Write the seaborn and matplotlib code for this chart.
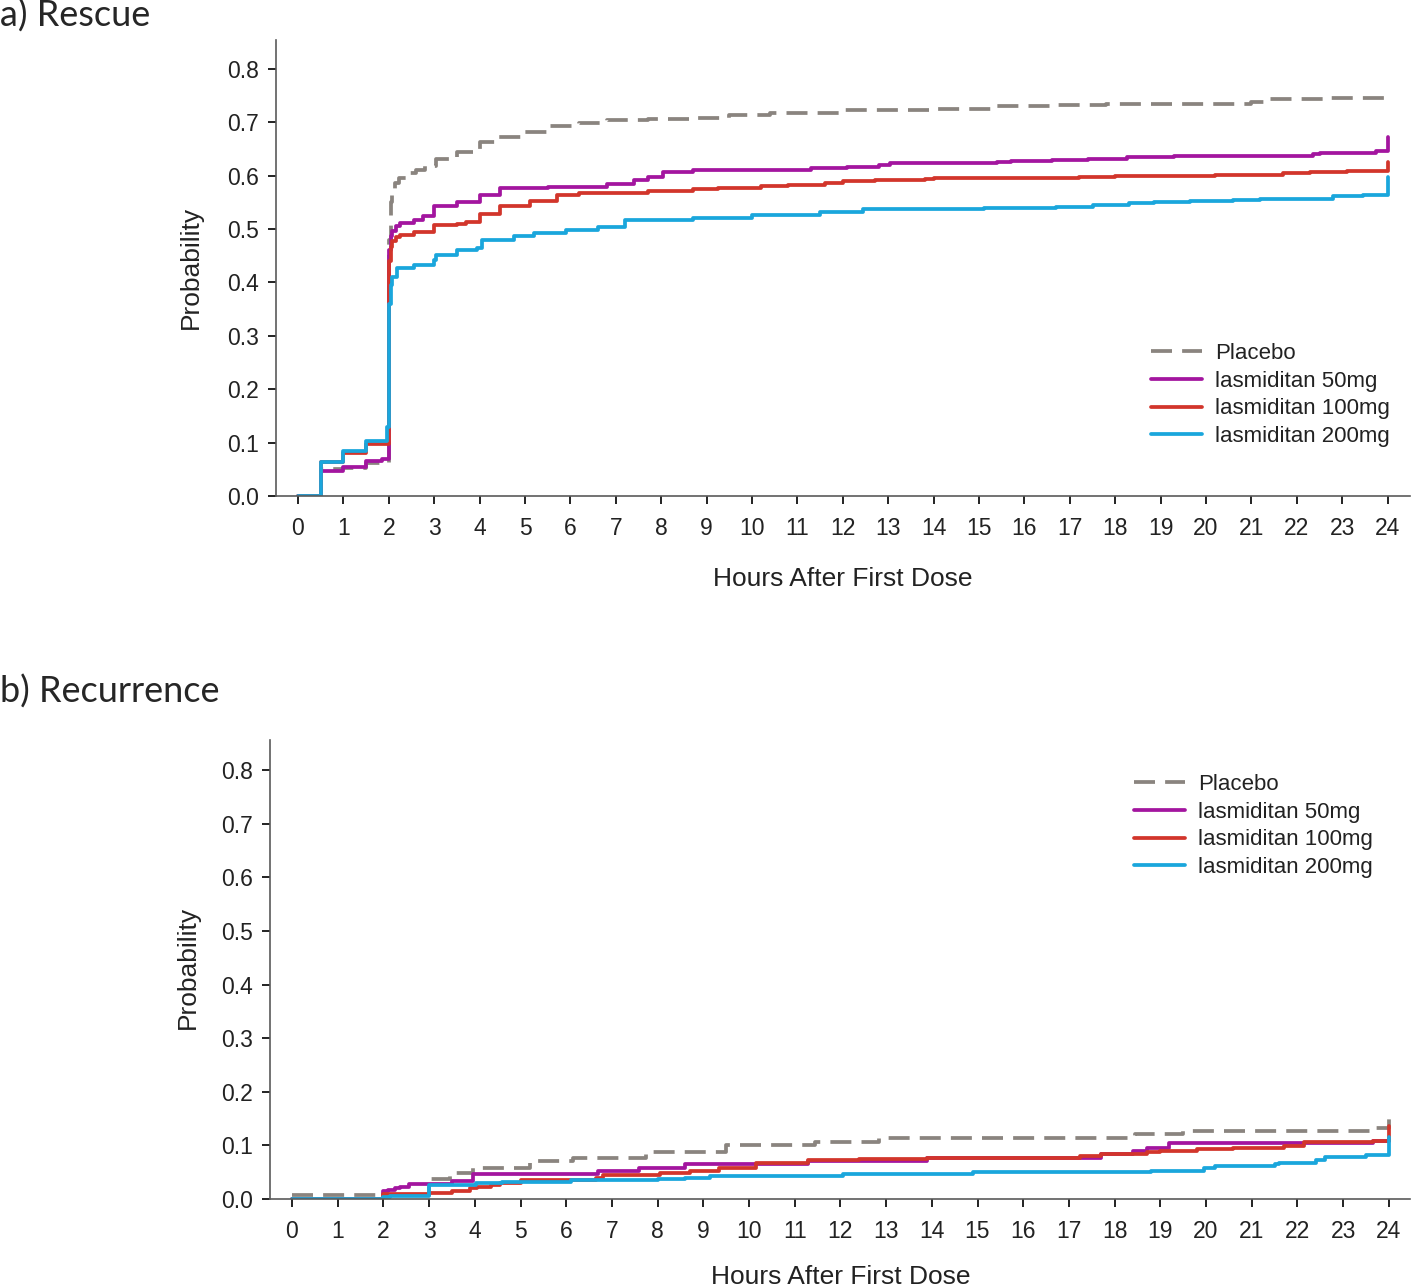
import matplotlib
matplotlib.use("Agg")
import matplotlib.pyplot as plt
import seaborn as sns
import pandas as pd

# ---------------- data ----------------
hours_ticks = list(range(0, 25))
prob_ticks = [0.0, 0.1, 0.2, 0.3, 0.4, 0.5, 0.6, 0.7, 0.8]
series_labels = ["Placebo", "lasmiditan 50mg", "lasmiditan 100mg", "lasmiditan 200mg"]
series_colors = ["#8a847f", "#a3159f", "#d2352b", "#1aa6dc"]

# a) Rescue
rescue_placebo_t = [0, 0.5, 1.0, 1.5, 2.0, 2.04, 2.08, 2.14, 2.22, 2.4, 2.6, 2.8, 3.05, 3.5, 4.0, 4.4,
                    4.95, 5.5, 6.2, 6.8, 7.7, 8.7, 9.5, 10.4, 11.1, 12.0, 14.0, 15.4, 16.7, 17.8,
                    21.0, 21.3, 22.7, 24.0, 24.0]
rescue_placebo_v = [0, 0.050, 0.052, 0.062, 0.48, 0.55, 0.575, 0.587, 0.596, 0.604, 0.611, 0.618, 0.632,
                    0.645, 0.663, 0.673, 0.682, 0.692, 0.699, 0.704, 0.706, 0.708, 0.713, 0.717, 0.718,
                    0.722, 0.725, 0.731, 0.733, 0.735, 0.738, 0.743, 0.746, 0.749, 0.752]

rescue_50_t = [0, 0.5, 1.0, 1.5, 1.85, 2.0, 2.04, 2.08, 2.15, 2.25, 2.55, 2.75, 3.0, 3.5, 4.0, 4.45,
               5.5, 6.8, 7.4, 7.7, 8.05, 8.7, 11.3, 12.1, 12.8, 13.05, 15.4, 15.7, 16.6, 17.4, 18.25,
               19.3, 22.35, 22.5, 23.75, 24.0, 24.0]
rescue_50_v = [0, 0.046, 0.054, 0.066, 0.070, 0.46, 0.487, 0.497, 0.505, 0.511, 0.517, 0.524, 0.543,
               0.551, 0.564, 0.576, 0.579, 0.585, 0.592, 0.598, 0.607, 0.610, 0.614, 0.617, 0.620,
               0.623, 0.626, 0.628, 0.629, 0.631, 0.635, 0.637, 0.640, 0.643, 0.647, 0.649, 0.673]

rescue_100_t = [0, 0.5, 1.0, 1.5, 2.0, 2.04, 2.08, 2.15, 2.25, 2.55, 3.0, 3.5, 3.7, 4.0, 4.45, 5.1,
                5.7, 6.2, 7.7, 8.7, 9.25, 10.2, 10.8, 11.6, 12.0, 12.7, 13.8, 14.0, 17.2, 18.0, 20.2,
                21.7, 22.3, 23.1, 24.0, 24.0]
rescue_100_v = [0, 0.063, 0.080, 0.098, 0.44, 0.466, 0.477, 0.485, 0.489, 0.495, 0.507, 0.509, 0.514,
                0.529, 0.543, 0.553, 0.564, 0.568, 0.571, 0.574, 0.576, 0.581, 0.582, 0.586, 0.590,
                0.592, 0.594, 0.596, 0.598, 0.599, 0.602, 0.604, 0.607, 0.609, 0.609, 0.626]

rescue_200_t = [0, 0.5, 1.0, 1.5, 1.95, 2.0, 2.04, 2.08, 2.17, 2.55, 3.0, 3.05, 3.5, 3.95, 4.05, 4.75,
                5.2, 5.9, 6.6, 7.2, 8.7, 9.0, 10.0, 11.5, 12.45, 15.1, 16.7, 17.5, 18.3, 18.85, 19.65,
                20.6, 21.2, 22.8, 23.45, 24.0, 24.0]
rescue_200_v = [0, 0.063, 0.084, 0.103, 0.130, 0.36, 0.395, 0.410, 0.427, 0.433, 0.442, 0.451, 0.461,
                0.464, 0.479, 0.486, 0.492, 0.498, 0.504, 0.517, 0.520, 0.521, 0.526, 0.531, 0.537,
                0.539, 0.542, 0.545, 0.548, 0.550, 0.552, 0.554, 0.556, 0.561, 0.564, 0.564, 0.598]

# b) Recurrence
recur_placebo_t = [0, 3.0, 3.45, 3.95, 5.2, 6.15, 7.75, 9.5, 11.45, 12.85, 18.45, 19.5, 23.6, 24.0, 24.0]
recur_placebo_v = [0.008, 0.037, 0.048, 0.058, 0.070, 0.077, 0.087, 0.100, 0.107, 0.114, 0.121, 0.126,
                   0.132, 0.132, 0.155]

recur_50_t = [0, 2.0, 2.1, 2.25, 2.36, 2.55, 3.5, 3.95, 6.7, 7.6, 8.6, 11.3, 13.9, 17.7, 18.4, 18.7,
              19.2, 23.65, 24.0, 24.0]
recur_50_v = [0, 0.014, 0.017, 0.020, 0.023, 0.028, 0.034, 0.047, 0.052, 0.057, 0.065, 0.070, 0.076,
              0.084, 0.090, 0.096, 0.104, 0.109, 0.109, 0.112]

recur_100_t = [0, 2.0, 3.0, 3.5, 3.9, 4.05, 4.35, 4.55, 5.0, 6.65, 6.8, 8.05, 8.7, 9.35, 10.15, 11.3,
               12.4, 13.9, 17.25, 17.7, 18.7, 19.0, 19.8, 20.6, 21.7, 22.15, 23.65, 24.0, 24.0]
recur_100_v = [0, 0.009, 0.011, 0.015, 0.020, 0.023, 0.026, 0.029, 0.035, 0.040, 0.045, 0.049, 0.053,
               0.057, 0.067, 0.072, 0.074, 0.077, 0.081, 0.084, 0.087, 0.090, 0.093, 0.096, 0.0995,
               0.107, 0.109, 0.109, 0.137]

recur_200_t = [0, 2.0, 2.15, 3.0, 4.03, 4.6, 6.1, 8.0, 8.6, 9.15, 12.05, 14.9, 18.8, 19.95, 20.2, 21.5,
               21.6, 22.4, 22.6, 23.5, 24.0, 24.0]
recur_200_v = [0, 0.004, 0.006, 0.026, 0.030, 0.032, 0.035, 0.038, 0.040, 0.043, 0.046, 0.050, 0.053,
               0.058, 0.062, 0.065, 0.068, 0.073, 0.078, 0.082, 0.082, 0.115]

# ---------------- style ----------------
sns.set_style("ticks")
AX_FONT = ["Liberation Sans", "DejaVu Sans"]
plt.rcParams["font.family"] = AX_FONT

W, H = 1416, 1287
fig = plt.figure(figsize=(W / 100, H / 100), dpi=100)
LW = 2.7


def make_axes(left, right, top, bottom):
    return fig.add_axes([left / W, 1 - bottom / H, (right - left) / W, (bottom - top) / H])


def draw_panel(ax, times, values, x0px, pxh, left, right, y0px, pxv, top):
    for t, v, lab, col in zip(times, values, series_labels, series_colors):
        df = pd.DataFrame({"t": t, "v": v})
        ls = (0, (5.6, 2.7)) if lab == "Placebo" else "-"
        sns.lineplot(data=df, x="t", y="v", ax=ax, estimator=None, sort=True,
                     drawstyle="steps-post", color=col, linewidth=LW,
                     linestyle=ls, label=lab, legend=False)
    ax.set_xlim((left - x0px) / pxh, (right - x0px) / pxh)
    ax.set_ylim(0, (y0px - top) / pxv)
    ax.set_xticks(hours_ticks)
    ax.set_xticklabels([str(h) for h in hours_ticks])
    ax.set_yticks(prob_ticks)
    ax.set_yticklabels([f"{p:.1f}" for p in prob_ticks])
    for s in ["top", "right"]:
        ax.spines[s].set_visible(False)
    for s in ["left", "bottom"]:
        ax.spines[s].set_color("#5a5a5a")
        ax.spines[s].set_linewidth(1.2)
    ax.tick_params(axis="x", pad=9)
    ax.tick_params(axis="y", pad=6)
    ax.tick_params(axis="both", direction="out", length=6, width=1.4, color="#222222",
                   labelsize=16.5, labelcolor="#222222")
    ax.set_xlabel("Hours After First Dose", fontsize=19, color="#222222")
    ax.set_ylabel("Probability", fontsize=19, color="#222222")


# top panel
ax1 = make_axes(276, 1410, 40, 496)
draw_panel(ax1,
           [rescue_placebo_t, rescue_50_t, rescue_100_t, rescue_200_t],
           [rescue_placebo_v, rescue_50_v, rescue_100_v, rescue_200_v],
           298, 45.4, 276, 1410, 496, 534, 40)
ax1.xaxis.set_label_coords((843 - 276) / (1410 - 276), (496 - 567) / (496 - 40))
ax1.yaxis.set_label_coords((203 - 276) / (1410 - 276), (496 - 267) / (496 - 40))

# bottom panel
ax2 = make_axes(270, 1410, 740, 1199)
draw_panel(ax2,
           [recur_placebo_t, recur_50_t, recur_100_t, recur_200_t],
           [recur_placebo_v, recur_50_v, recur_100_v, recur_200_v],
           292, 45.7, 270, 1410, 1199, 536, 740)
ax2.xaxis.set_label_coords((841 - 270) / (1410 - 270), (1199 - 1265) / (1199 - 740))
ax2.yaxis.set_label_coords((200 - 270) / (1410 - 270), (1199 - 967) / (1199 - 740))

# legends
for ax, (lx, ly) in [(ax1, (1151, 343)), (ax2, (1134, 774))]:
    handles, labels = ax.get_legend_handles_labels()
    ax.legend(handles, labels, loc="upper left", bbox_to_anchor=(lx / W, 1 - ly / H),
              bbox_transform=fig.transFigure, frameon=False, fontsize=16,
              handlelength=2.3, handletextpad=0.6, labelspacing=0.3,
              borderpad=0, borderaxespad=0)
    for txt in ax.get_legend().get_texts():
        txt.set_color("#222222")

# panel titles
TITLE_FONT = ["Lato", "DejaVu Sans"]
fig.text(0 / W, 1 - 16 / H, "a) Rescue", family=TITLE_FONT, fontsize=26, va="center", ha="left")
fig.text(0 / W, 1 - 692 / H, "b) Recurrence", family=TITLE_FONT, fontsize=26, va="center", ha="left")

fig.savefig("out.png", dpi=100)
